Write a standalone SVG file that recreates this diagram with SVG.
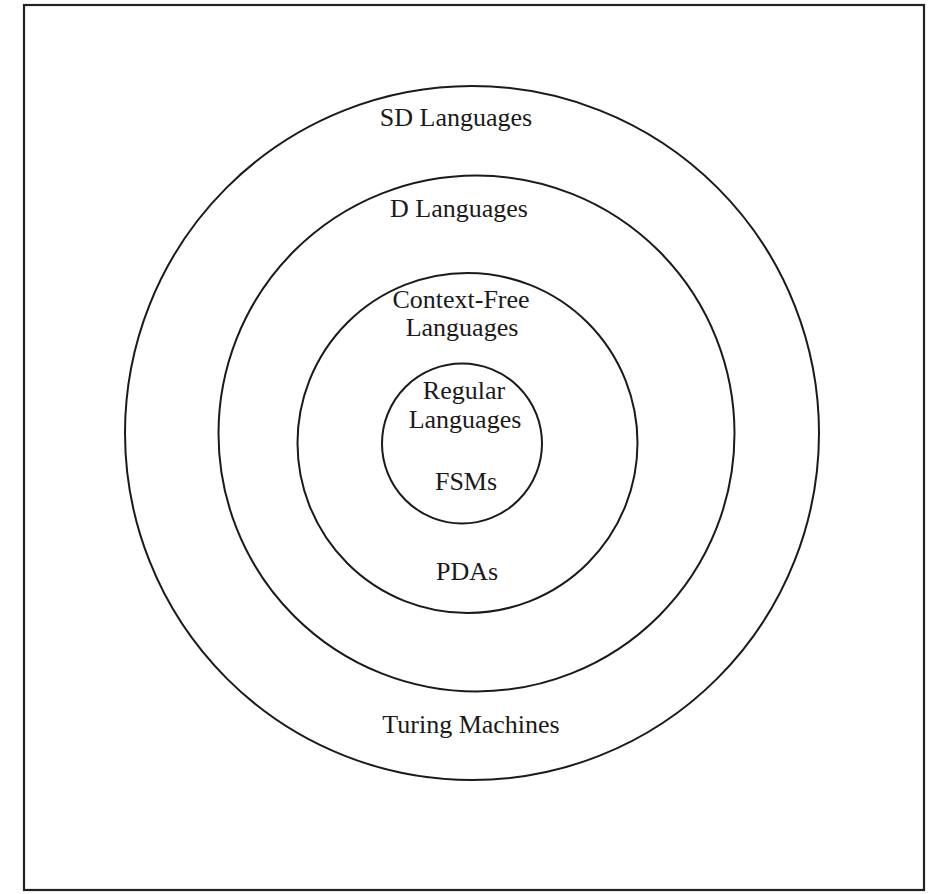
<svg xmlns="http://www.w3.org/2000/svg" width="937" height="894" viewBox="0 0 937 894">
<style>
.c{fill:none;stroke:#1a1a1a;stroke-width:2}
.t{font-family:"Liberation Serif","Times New Roman",serif;font-size:26px;fill:#1a1a1a;text-anchor:middle}
</style>
<rect x="0" y="0" width="937" height="894" fill="#ffffff"/>
<rect x="24" y="5" width="900" height="885" fill="none" stroke="#222" stroke-width="2.2"/>
<g id="turing">
<circle class="c" cx="472" cy="433" r="347"/>
<text class="t" x="456" y="126">SD Languages</text>
<text class="t" x="471" y="733">Turing Machines</text>
</g>
<g id="dlang">
<circle class="c" cx="476.5" cy="433.5" r="258"/>
<text class="t" x="459" y="217">D Languages</text>
</g>
<g id="cfl">
<circle class="c" cx="467.5" cy="443" r="170"/>
<text class="t" x="461" y="308">Context-Free</text>
<text class="t" x="462" y="336">Languages</text>
<text class="t" x="467" y="580">PDAs</text>
</g>
<g id="regular">
<circle class="c" cx="462" cy="443.5" r="80"/>
<text class="t" x="464" y="399">Regular</text>
<text class="t" x="465" y="428">Languages</text>
<text class="t" x="466" y="490">FSMs</text>
</g>
<g id="connectors"></g>
</svg>
